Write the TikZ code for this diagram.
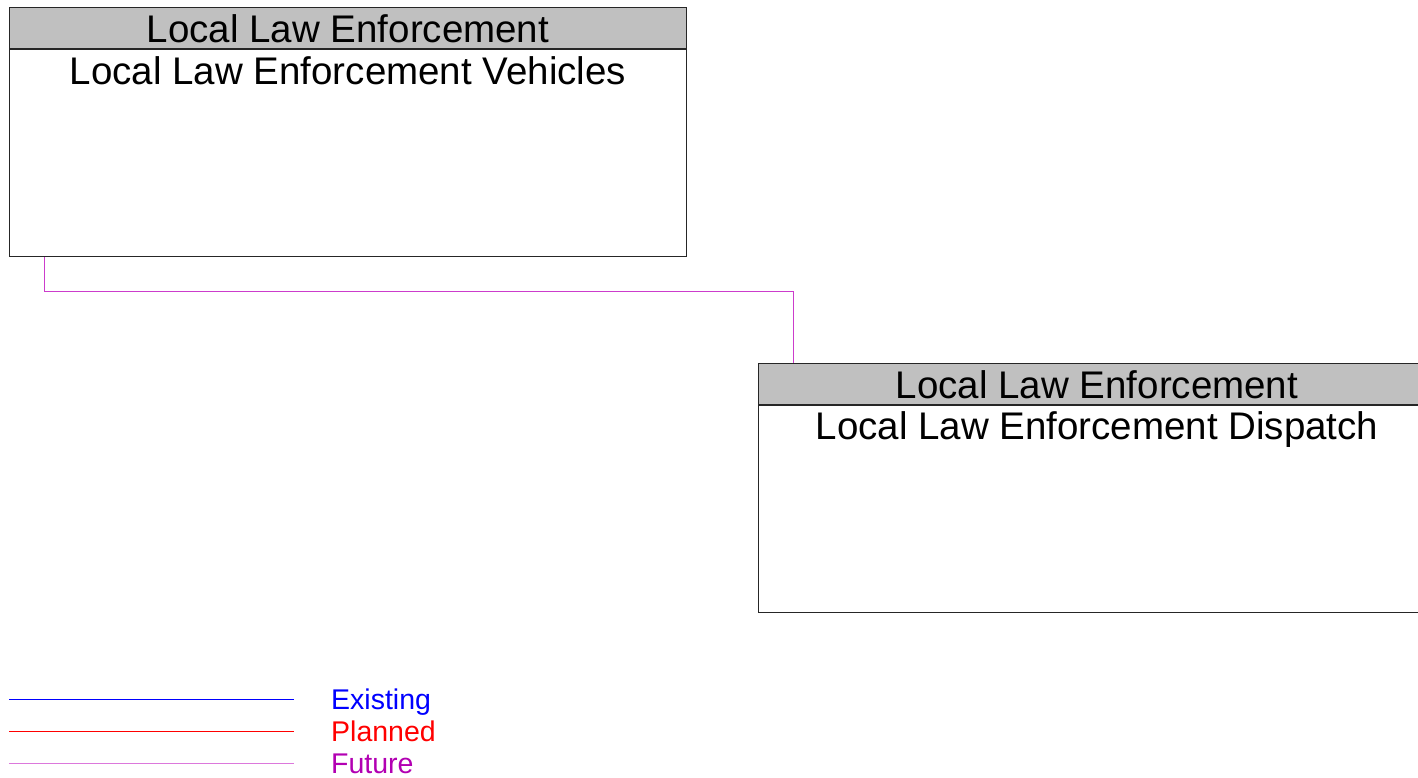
\documentclass[tikz,border=0pt]{standalone}
\usepackage{fontspec}
\setmainfont{Liberation Sans}
\usetikzlibrary{positioning}
\definecolor{ArchGray}{RGB}{192,192,192}
\definecolor{ArchBlue}{RGB}{0,0,255}
\definecolor{ArchRed}{RGB}{255,0,0}
\definecolor{ArchPurple}{RGB}{178,0,178}
\definecolor{ArchFuture}{RGB}{204,60,204}
\definecolor{ArchFutureLight}{RGB}{220,120,220}
\begin{document}
\begin{tikzpicture}[
    x=1pt, y=-1pt,
    headbox/.style={draw=black!85, fill=ArchGray, minimum width=677pt, minimum height=41pt, inner sep=0pt, anchor=north west, line width=1pt},
    bodybox/.style={draw=black!85, fill=white, minimum width=677pt, minimum height=207pt, inner sep=0pt, anchor=north, line width=1pt},
    boxtext/.style={font=\fontsize{38.5}{40}\selectfont, inner sep=0pt, anchor=base},
    legtext/.style={font=\fontsize{28.5}{30}\selectfont, inner sep=0pt, anchor=base west},
    flow/.style={draw=ArchFuture, line width=1pt}
  ]
    \useasboundingbox (0,0) rectangle (1418,777);
    \clip (0,0) rectangle (1418,777);
    % vehicles element
    \node[headbox] (vehhead) at (9,7) {};
    \node[bodybox] (vehbody) at (vehhead.south) {};
    \node[boxtext] (vehtype) at ([yshift=-14pt]vehhead.center) {Local Law Enforcement};
    \node[boxtext] (vehname) at ([yshift=-35pt]vehhead.south) {Local Law Enforcement Vehicles};
    % dispatch element
    \node[headbox] (dsphead) at (758,363) {};
    \node[bodybox] (dspbody) at (dsphead.south) {};
    \node[boxtext] (dsptype) at ([yshift=-14pt]dsphead.center) {Local Law Enforcement};
    \node[boxtext] (dspname) at ([yshift=-34pt]dsphead.south) {Local Law Enforcement Dispatch};
    % future flow
    \coordinate (vehturn) at (44.5,291.5);
    \coordinate (dspturn) at (793.5,291.5);
    \draw[flow] (vehbody.south west -| vehturn) -- (vehturn) -- (dspturn) -- (dsphead.north west -| dspturn);
    % legend
    \coordinate (l1) at (9,699.5);
    \coordinate (l2) at (9,731.5);
    \coordinate (l3) at (9,763.5);
    \draw[ArchBlue, line width=1pt] (l1) -- ++(285,0) coordinate (e1);
    \draw[ArchRed, line width=1pt] (l2) -- ++(285,0) coordinate (e2);
    \draw[ArchFutureLight, line width=1.5pt] (l3) -- ++(285,0) coordinate (e3);
    \node[legtext, text=ArchBlue] (lexist) at ([xshift=37pt, yshift=-10pt]e1) {Existing};
    \node[legtext, text=ArchRed] (lplan) at ([xshift=37pt, yshift=-10pt]e2) {Planned};
    \node[legtext, text=ArchPurple] (lfut) at ([xshift=37pt, yshift=-10pt]e3) {Future};
\end{tikzpicture}
\end{document}
